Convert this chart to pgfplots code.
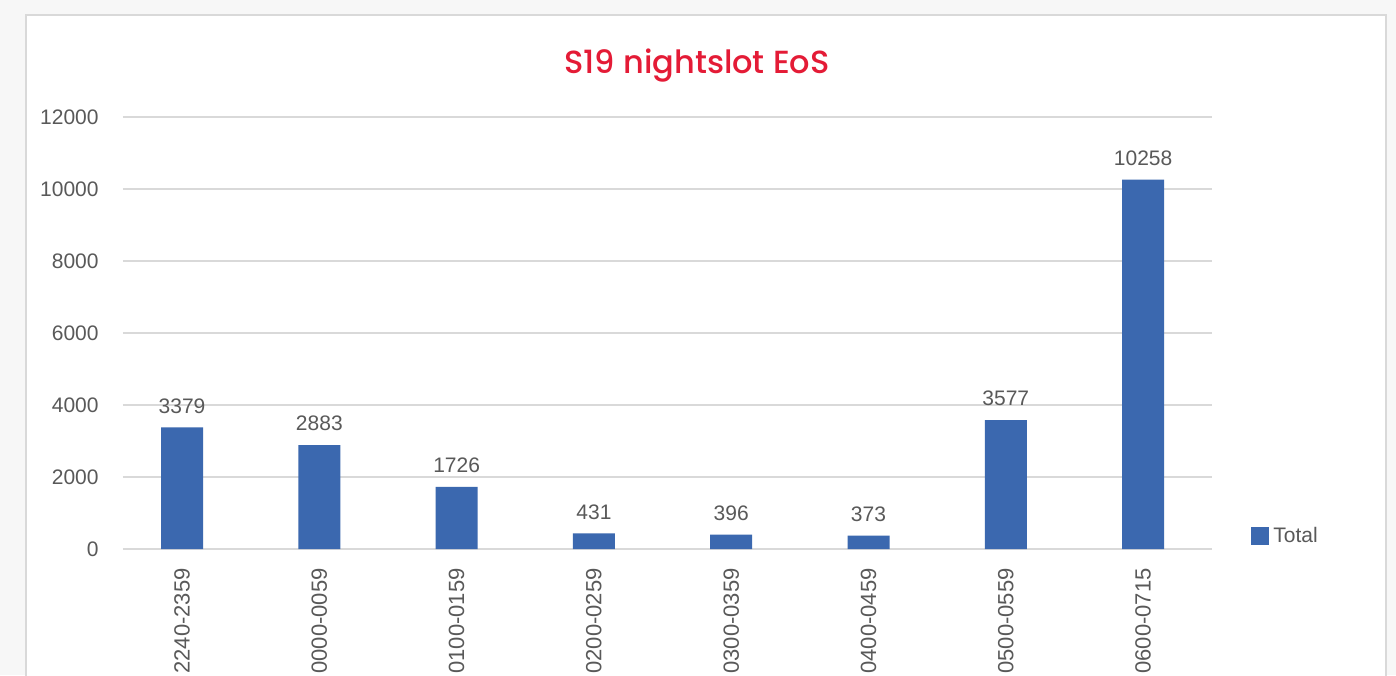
\documentclass[border=0pt]{standalone}
\usepackage{pgfplots}
\pgfplotsset{compat=1.18}
\usepackage{fontspec}
\setmainfont{Liberation Sans}
\newfontfamily\titlefont{Poppins Medium}
\definecolor{barc}{HTML}{3B68AF}
\definecolor{gridc}{HTML}{D9D9D9}
\definecolor{labc}{HTML}{595959}
\definecolor{titc}{HTML}{E41B36}
\definecolor{bgc}{HTML}{F7F7F7}
\begin{document}
\begin{tikzpicture}
\useasboundingbox (0,0) rectangle (698pt,337.5pt);
\clip (0,0) rectangle (698pt,337.5pt);
\fill[bgc] (0,0) rectangle (698pt,337.5pt);
\filldraw[fill=white,draw=gridc,line width=1pt] (13pt,-5pt) rectangle (693pt,330pt);
\node[font=\titlefont\fontsize{16}{19}\selectfont, text=titc] at (348.5pt,304.5pt) {S19 nightslot EoS};
\begin{axis}[
  at={(61.5pt,63pt)}, anchor=south west,
  scale only axis, width=544.5pt, height=216pt,
  ymin=0, ymax=12000, ytick={0,2000,...,12000},
  xmin=-0.43, xmax=7.502, xtick={0,...,7},
  xticklabels={2240-2359,0000-0059,0100-0159,0200-0259,0300-0359,0400-0459,0500-0559,0600-0715},
  ybar, bar width=21pt,
  ymajorgrids, grid style={draw=gridc, line width=1pt},
  axis line style={draw=none}, major tick length=0pt,
  /pgf/number format/1000 sep={},
  /pgf/number format/assume math mode=true,
  scaled y ticks=false,
  x tick label style={rotate=90, anchor=east, inner sep=0pt, font=\fontsize{11}{13}\selectfont, text=labc},
  y tick label style={anchor=east, inner sep=0pt, font=\fontsize{10.5}{12}\selectfont, text=labc},
  xticklabel shift=9.5pt, yticklabel shift=12pt,
  nodes near coords,
  every node near coord/.append style={font=\fontsize{10.5}{12}\selectfont, text=labc, yshift=3.5pt},
  legend style={at={(1.0358,0.030)}, anchor=west, draw=none, fill=none, inner sep=0pt,
    font=\fontsize{10.5}{12}\selectfont, text=labc},
  legend image code/.code={\fill[barc] (0pt,-4.5pt) rectangle (9pt,4.5pt);},
  clip=false,
]
\addplot[fill=barc, draw=none] coordinates {(0,3379) (1,2883) (2,1726) (3,431) (4,396) (5,373) (6,3577) (7,10258)};
\addlegendentry{Total}
\end{axis}
\end{tikzpicture}
\end{document}
